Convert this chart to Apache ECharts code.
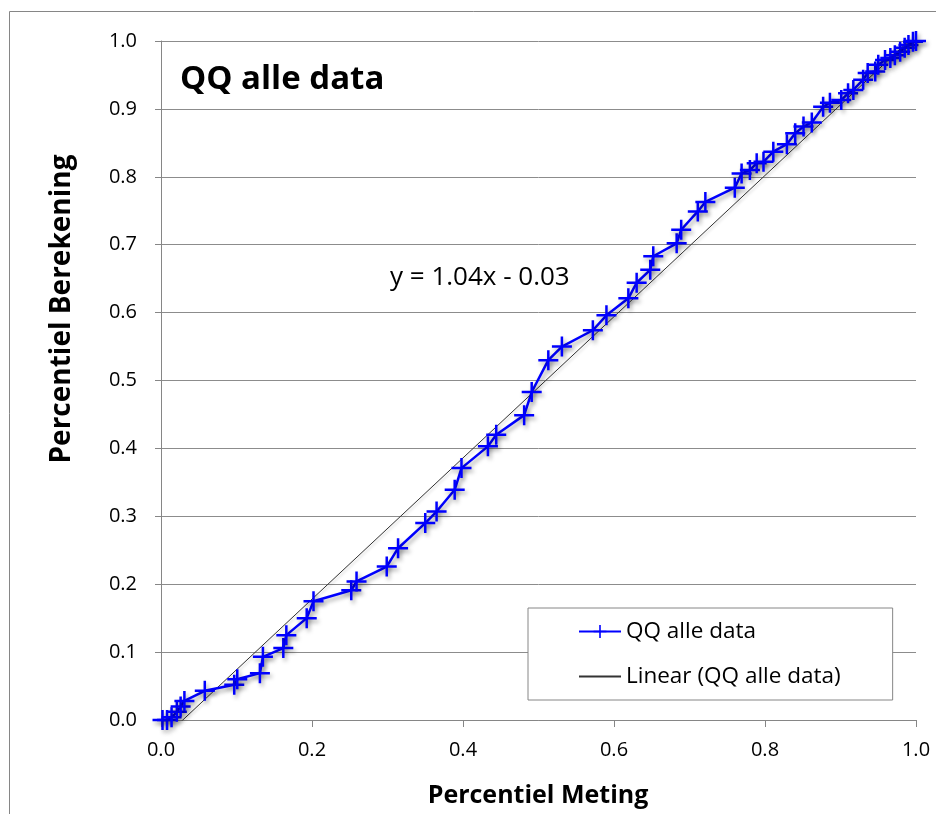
<!DOCTYPE html>
<html>
<head>
<meta charset="utf-8">
<script src="https://cdn.jsdelivr.net/npm/echarts@6/dist/echarts.min.js"></script>
<style>
  html, body { margin: 0; padding: 0; background: #fff; }
  #chart { width: 936px; height: 814px; }
</style>
</head>
<body>
<div id="chart"></div>
<script>
// percentiel meting (x) en percentiel berekening (y)
const meting = [0.002, 0.008, 0.014, 0.021, 0.026, 0.031, 0.058, 0.097, 0.101, 0.131, 0.135,
  0.162, 0.166, 0.193, 0.202, 0.252, 0.259, 0.299, 0.314, 0.350, 0.365, 0.389, 0.398, 0.433,
  0.444, 0.481, 0.491, 0.513, 0.531, 0.572, 0.590, 0.619, 0.630, 0.648, 0.652, 0.683, 0.689,
  0.711, 0.721, 0.760, 0.769, 0.780, 0.789, 0.798, 0.811, 0.829, 0.840, 0.851, 0.862, 0.877,
  0.886, 0.901, 0.910, 0.917, 0.930, 0.936, 0.946, 0.950, 0.959, 0.966, 0.972, 0.979, 0.985,
  0.990, 0.996, 1.000];
const berekening = [0.000, 0.000, 0.004, 0.012, 0.020, 0.028, 0.043, 0.052, 0.060, 0.069, 0.093,
  0.106, 0.125, 0.150, 0.175, 0.191, 0.204, 0.226, 0.253, 0.290, 0.307, 0.339, 0.371, 0.403,
  0.420, 0.449, 0.483, 0.530, 0.550, 0.574, 0.596, 0.621, 0.644, 0.663, 0.683, 0.702, 0.722,
  0.749, 0.763, 0.784, 0.805, 0.810, 0.820, 0.822, 0.837, 0.848, 0.864, 0.874, 0.880, 0.903,
  0.909, 0.913, 0.923, 0.928, 0.943, 0.953, 0.955, 0.965, 0.972, 0.975, 0.979, 0.984, 0.990,
  0.994, 0.999, 1.000];

// trendlijn y = 1.04x - 0.03
const slope = 1.04;
const intercept = -0.03;
const trendX = [0, 1];

const font = '"Open Sans", Lato, sans-serif';
const plus = 'path://M8.75,0H11.25V8.75H20V11.25H11.25V20H8.75V11.25H0V8.75H8.75Z';

let myChart = echarts.init(document.getElementById('chart'));

const qqData = meting.map((x, i) => [x, berekening[i]]);
const trendData = trendX.map(x => [x, slope * x + intercept]);

myChart.setOption({
  animation: false,
  backgroundColor: '#fff',
  textStyle: { fontFamily: font },
  grid: { left: 161, top: 41, right: 20, bottom: 94 },
  xAxis: {
    type: 'value', min: 0, max: 1, interval: 0.2,
    axisLine: { show: true, lineStyle: { color: '#868686', width: 1 } },
    axisTick: { show: true, length: 7, lineStyle: { color: '#868686' } },
    axisLabel: { color: '#000', fontSize: 20, fontFamily: font, margin: 20,
      formatter: v => v.toFixed(1) },
    splitLine: { show: false }
  },
  yAxis: {
    type: 'value', min: 0, max: 1, interval: 0.1,
    axisLine: { show: true, lineStyle: { color: '#868686', width: 1 } },
    axisTick: { show: true, length: 6, lineStyle: { color: '#868686' } },
    axisLabel: { color: '#000', fontSize: 20, fontFamily: font, margin: 24,
      formatter: v => v.toFixed(1) },
    splitLine: { show: true, lineStyle: { color: '#8c8c8c', width: 1 } }
  },
  legend: {
    orient: 'vertical',
    left: 528, top: 608,
    padding: [12, 52, 12, 50],
    itemGap: 22,
    itemWidth: 42, itemHeight: 16,
    backgroundColor: '#fff',
    borderColor: '#868686', borderWidth: 1,
    textStyle: { fontSize: 22.5, color: '#000', fontFamily: font },
    data: [
      'QQ alle data',
      { name: 'Linear (QQ alle data)', itemStyle: { opacity: 0 } }
    ]
  },
  series: [
    {
      name: 'Linear (QQ alle data)',
      type: 'line',
      data: trendData,
      showSymbol: false,
      symbol: 'none',
      clip: true,
      silent: true,
      lineStyle: { color: '#333', width: 1,
        shadowColor: 'rgba(0,0,0,0.25)', shadowBlur: 3, shadowOffsetX: 1, shadowOffsetY: 2 },
      itemStyle: { color: '#333' },
      z: 2
    },
    {
      name: 'QQ alle data',
      type: 'line',
      data: qqData,
      symbol: plus,
      symbolSize: 20,
      clip: false,
      lineStyle: { color: '#0000ff', width: 2.5,
        shadowColor: 'rgba(0,0,0,0.35)', shadowBlur: 4, shadowOffsetX: 2, shadowOffsetY: 3 },
      itemStyle: { color: '#0000ff', borderWidth: 0,
        shadowColor: 'rgba(0,0,0,0.35)', shadowBlur: 4, shadowOffsetX: 2, shadowOffsetY: 3 },
      z: 3
    }
  ],
  graphic: [
    { type: 'rect', shape: { x: 9.5, y: 11.5, width: 960, height: 840 },
      style: { fill: 'none', stroke: '#868686', lineWidth: 1 }, z: -10, silent: true },
    { type: 'text', x: 180, y: 80,
      style: { text: 'QQ alle data', font: 'bold 33px ' + font, fill: '#000',
        verticalAlign: 'middle' } },
    { type: 'text', x: 390, y: 278,
      style: { text: 'y = 1.04x - 0.03', font: '26px ' + font, fill: '#000',
        verticalAlign: 'middle' } },
    { type: 'text', x: 62, y: 309, rotation: Math.PI / 2,
      style: { text: 'Percentiel Berekening', font: 'bold 28px ' + font, fill: '#000',
        align: 'center', verticalAlign: 'middle' } },
    { type: 'text', x: 538, y: 796,
      style: { text: 'Percentiel Meting', font: 'bold 25px ' + font, fill: '#000',
        align: 'center', verticalAlign: 'middle' } }
  ]
});
</script>
</body>
</html>
